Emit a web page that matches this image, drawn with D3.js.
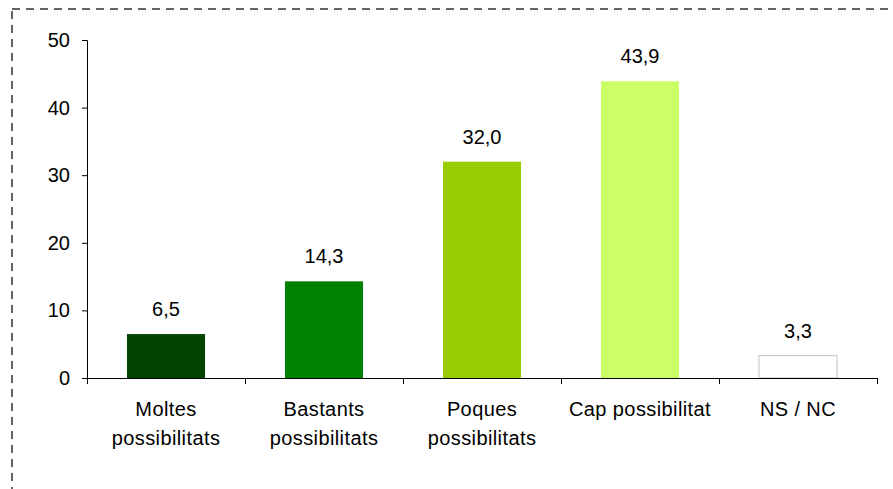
<!DOCTYPE html>
<html>
<head>
<meta charset="utf-8">
<script src="https://cdn.jsdelivr.net/npm/d3@7"></script>
<style>
  html, body { margin: 0; padding: 0; background: #fff; }
  #chart { width: 893px; height: 489px; overflow: hidden; }
  text { font-family: "Liberation Sans", Arial, sans-serif; fill: #000; }
</style>
</head>
<body>
<div id="chart"></div>
<script>
// dades
const categories = [["Moltes", "possibilitats"], ["Bastants", "possibilitats"], ["Poques", "possibilitats"], ["Cap possibilitat"], ["NS / NC"]];
const values = [6.5, 14.3, 32.0, 43.9, 3.3];
const barColors = ["#004400", "#008000", "#99cc00", "#ccff66", "#ffffff"];
const yTicks = [0, 10, 20, 30, 40, 50];

const width_svg = 893, height_svg = 489;
const margin = {top: 40, right: 16, bottom: 111, left: 87};

const svg = d3.select('#chart')
              .append('svg')
              .attr('width', width_svg)
              .attr('height', height_svg);

// vora discontinua
svg.append('rect')
   .attr('x', 12).attr('y', 9)
   .attr('width', 920).attr('height', 520)
   .attr('fill', 'none')
   .attr('stroke', '#646464')
   .attr('stroke-width', 2)
   .attr('stroke-dasharray', '8,6');

const keys = categories.map(d => d.join(' '));

let xScale = d3.scaleBand()
               .domain(keys)
               .range([margin.left, width_svg - margin.right])
               .padding(0);
let yScale = d3.scaleLinear()
               .domain([0, 50])
               .range([height_svg - margin.bottom, margin.top]);

const barW = xScale.bandwidth() * 0.494;

// barres
svg.append('g')
   .selectAll('rect')
   .data(values)
   .enter().append('rect')
     .attr('x', (d, i) => xScale(keys[i]) + (xScale.bandwidth() - barW) / 2)
     .attr('y', d => yScale(d))
     .attr('width', barW)
     .attr('height', d => yScale(0) - yScale(d))
     .attr('fill', (d, i) => barColors[i])
     .attr('stroke', (d, i) => i === 4 ? '#c0c0c0' : 'none')
     .attr('stroke-width', 1);

// etiquetes de valor
svg.append('g')
   .selectAll('text')
   .data(values)
   .enter().append('text')
     .attr('x', (d, i) => xScale(keys[i]) + xScale.bandwidth() / 2)
     .attr('y', d => yScale(d) - 18)
     .attr('text-anchor', 'middle')
     .style('font-size', '20px')
     .text(d => d.toFixed(1).replace('.', ','));

// eix Y
let yAxis = g => g.attr('transform', `translate(${margin.left}, 0)`)
                  .call(d3.axisLeft(yScale).tickValues(yTicks).tickSize(5).tickPadding(12))
                  .call(g => g.selectAll('path, line').attr('stroke', '#000'))
                  .call(g => g.selectAll('.tick text')
                              .attr('font-family', null)
                              .style('font-size', '20px'));
svg.append('g').call(yAxis);

// eix X
let xTicks = keys.map(k => xScale(k)).concat([width_svg - margin.right]);
let xAxis = svg.append('g');
xAxis.append('line')
     .attr('x1', margin.left).attr('x2', width_svg - margin.right)
     .attr('y1', yScale(0) + 0.5).attr('y2', yScale(0) + 0.5)
     .attr('stroke', '#000');
xAxis.selectAll('line.tick')
     .data(xTicks)
     .enter().append('line')
       .attr('class', 'tick')
       .attr('x1', d => Math.round(d) + 0.5).attr('x2', d => Math.round(d) + 0.5)
       .attr('y1', yScale(0)).attr('y2', yScale(0) + 6)
       .attr('stroke', '#000');

let catLabel = xAxis.selectAll('text')
     .data(categories)
     .enter().append('text')
       .attr('x', (d, i) => xScale(keys[i]) + xScale.bandwidth() / 2)
       .attr('y', yScale(0) + 38)
       .attr('text-anchor', 'middle')
       .style('font-size', '20px')
       .style('letter-spacing', '0.4px');
catLabel.selectAll('tspan')
        .data(d => d)
        .enter().append('tspan')
          .attr('x', function() { return d3.select(this.parentNode).attr('x'); })
          .attr('dy', (d, i) => i === 0 ? 0 : 29)
          .text(d => d);
</script>
</body>
</html>
